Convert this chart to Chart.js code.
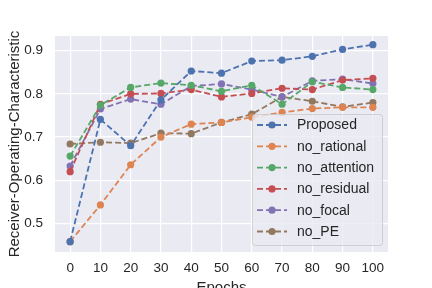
<!DOCTYPE html>
<html>
<head>
<meta charset="utf-8">
<script src="https://cdn.jsdelivr.net/npm/chart.js@4.4.1/dist/chart.umd.min.js"></script>
<style>
  html, body { margin: 0; padding: 0; background: #ffffff; }
  #wrap { width: 432px; height: 288px; }
</style>
</head>
<body>
<div id="wrap"><canvas id="rocChart" width="432" height="288"></canvas></div>
<script>
// ---------------- DATA ----------------
const epochs = [0, 10, 20, 30, 40, 50, 60, 70, 80, 90, 100];
const yTicks = [0.5, 0.6, 0.7, 0.8, 0.9];

const proposed    = [0.458, 0.741, 0.680, 0.786, 0.853, 0.848, 0.876, 0.878, 0.887, 0.903, 0.914];
const noRational  = [0.458, 0.543, 0.636, 0.700, 0.730, 0.734, 0.746, 0.757, 0.766, 0.769, 0.769];
const noAttention = [0.656, 0.774, 0.815, 0.825, 0.820, 0.806, 0.820, 0.776, 0.828, 0.815, 0.810];
const noResidual  = [0.620, 0.776, 0.800, 0.801, 0.810, 0.793, 0.801, 0.813, 0.810, 0.832, 0.836];
const noFocal     = [0.633, 0.765, 0.788, 0.776, 0.818, 0.823, 0.810, 0.793, 0.830, 0.834, 0.824];
const noPE        = [0.684, 0.688, 0.686, 0.709, 0.708, 0.734, 0.753, 0.793, 0.783, 0.770, 0.780];

const seriesNames = ["Proposed", "no_rational", "no_attention", "no_residual", "no_focal", "no_PE"];
const seriesData = [proposed, noRational, noAttention, noResidual, noFocal, noPE];
const seriesColors = ["#4C72B0", "#DD8452", "#55A868", "#C44E52", "#8172B3", "#937860"];

const textColor = "#262626";
const fontFamily = "'Liberation Sans', Arial, sans-serif";

// ---------------- LEGEND (inside plot, lower right) ----------------
const insideLegend = {
    id: "insideLegend",
    afterDatasetsDraw(chart) {
        const ctx = chart.ctx;
        const box = { x: 252, y: 114, w: 130, h: 131 };

        ctx.save();
        ctx.beginPath();
        ctx.roundRect(box.x + 0.5, box.y + 0.5, box.w, box.h, 3);
        ctx.fillStyle = "rgba(234,234,242,0.8)";
        ctx.fill();
        ctx.strokeStyle = "rgba(204,204,204,0.9)";
        ctx.lineWidth = 1;
        ctx.stroke();

        chart.data.datasets.forEach((ds, i) => {
            let y = 125 + i * 21.3;

            ctx.beginPath();
            ctx.setLineDash([6, 3]);
            ctx.strokeStyle = ds.borderColor;
            ctx.lineWidth = 1.8;
            ctx.moveTo(257, y);
            ctx.lineTo(287, y);
            ctx.stroke();
            ctx.setLineDash([]);

            ctx.beginPath();
            ctx.arc(272, y, 3.6, 0, Math.PI * 2);
            ctx.fillStyle = ds.borderColor;
            ctx.fill();

            ctx.fillStyle = textColor;
            ctx.font = "14px " + fontFamily;
            ctx.textBaseline = "middle";
            ctx.textAlign = "left";
            ctx.fillText(ds.label, 297, y + 0.5);
        });
        ctx.restore();
    }
};

// ---------------- PLOT BACKGROUND ----------------
const plotBackground = {
    id: "plotBackground",
    beforeDraw(chart) {
        const { ctx, chartArea } = chart;
        ctx.save();
        ctx.fillStyle = "#EAEAF2";
        ctx.fillRect(chartArea.left, chartArea.top, chartArea.right - chartArea.left, chartArea.bottom - chartArea.top);
        ctx.restore();
    }
};

// ---------------- CHART ----------------
const datasets = seriesNames.map((name, i) => ({
    label: name,
    data: epochs.map((e, j) => ({ x: e, y: seriesData[i][j] })),
    borderColor: seriesColors[i],
    backgroundColor: seriesColors[i],
    borderWidth: 1.8,
    borderDash: [6, 3],
    pointRadius: 3.6,
    pointHoverRadius: 3.6,
    pointBorderWidth: 0,
    tension: 0
}));

new Chart(document.getElementById("rocChart"), {
    type: "line",
    data: { datasets: datasets },
    options: {
        responsive: false,
        animation: false,
        events: [],
        layout: { padding: { left: 0, top: 36, right: 44, bottom: 0 } },
        plugins: {
            legend: { display: false },
            tooltip: { enabled: false }
        },
        scales: {
            x: {
                type: "linear",
                min: -5,
                max: 105,
                afterFit: scale => { scale.height = 36; },
                afterBuildTicks: scale => { scale.ticks = epochs.map(v => ({ value: v })); },
                grid: { color: "#ffffff", lineWidth: 1.2, drawTicks: false },
                border: { display: false },
                ticks: {
                    padding: 8,
                    color: textColor,
                    font: { family: fontFamily, size: 13.5 },
                    maxRotation: 0,
                    callback: v => String(v)
                },
                title: {
                    display: true,
                    text: "Epochs",
                    color: textColor,
                    font: { family: fontFamily, size: 15 },
                    padding: { top: 0, bottom: -9 }
                }
            },
            y: {
                type: "linear",
                min: 0.434,
                max: 0.934,
                afterFit: scale => { scale.width = 55; },
                afterBuildTicks: scale => { scale.ticks = yTicks.map(v => ({ value: v })); },
                grid: { color: "#ffffff", lineWidth: 1.2, drawTicks: false },
                border: { display: false },
                ticks: {
                    padding: 12,
                    color: textColor,
                    font: { family: fontFamily, size: 13.5 },
                    callback: v => v.toFixed(1)
                },
                title: {
                    display: true,
                    text: "Receiver-Operating-Characteristic",
                    color: textColor,
                    font: { family: fontFamily, size: 15 },
                    padding: { top: 6, bottom: 0 }
                }
            }
        }
    },
    plugins: [plotBackground, insideLegend]
});
</script>
</body>
</html>
